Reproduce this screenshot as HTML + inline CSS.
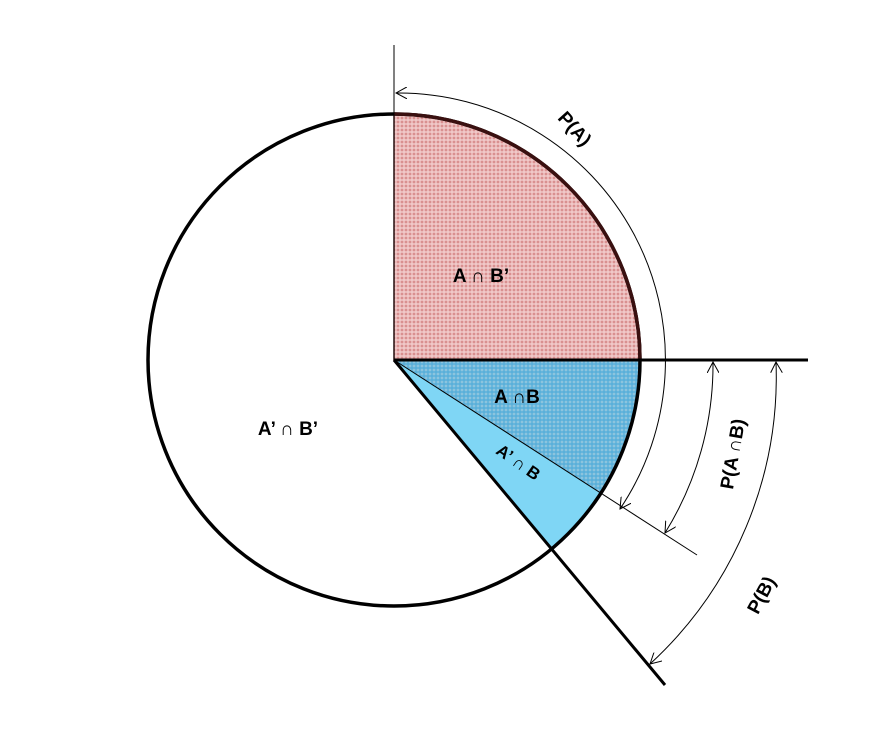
<!DOCTYPE html>
<html><head><style>body{margin:0;background:#fff}</style></head><body>
<svg width="883" height="724" xmlns="http://www.w3.org/2000/svg" style="font-family:'Liberation Sans',sans-serif;font-weight:bold">
<defs>
<pattern id="pk" width="4" height="4" patternUnits="userSpaceOnUse"><rect width="4" height="4" fill="#f0c8c8"/><circle cx="2" cy="2" r="1.4" fill="#d99090"/></pattern>
<pattern id="bl" width="4" height="4" patternUnits="userSpaceOnUse"><rect width="4" height="4" fill="#5ab0da"/><circle cx="2" cy="2" r="1.4" fill="#8cc4de"/></pattern>
<marker id="ah" markerWidth="12" markerHeight="12" refX="11" refY="6" orient="auto-start-reverse" markerUnits="userSpaceOnUse"><path d="M0,0 L11,6 L0,12" fill="none" stroke="#000" stroke-width="1"/></marker>
</defs>
<path d="M394,360 L394,114 A246,246 0 0 1 640,360 Z" fill="url(#pk)" stroke="#6b2a2a" stroke-width="1.5"/>
<path d="M394,360 L640,360 A246,246 0 0 1 552,549 Z" fill="#7fd6f5"/>
<path d="M394,360 L640,360 A246,246 0 0 1 601,493 Z" fill="url(#bl)"/>
<path d="M640,360 A246,246 0 0 1 552,549" fill="none" stroke="#1a7fa8" stroke-width="2.5"/>
<circle cx="394" cy="360" r="246" fill="none" stroke="#000" stroke-width="3.5"/>
<path d="M394,114 A246,246 0 0 1 640,360" fill="none" stroke="#3a1010" stroke-width="3.5"/>
<line x1="394" y1="45" x2="394" y2="360" stroke="#000" stroke-width="1"/>
<line x1="394" y1="360" x2="808" y2="360" stroke="#000" stroke-width="3"/>
<line x1="394" y1="360" x2="665" y2="685" stroke="#000" stroke-width="3"/>
<line x1="394" y1="360" x2="697" y2="555" stroke="#000" stroke-width="1"/>
<path d="M396,93 A267,267 0 0 1 620,509" fill="none" stroke="#000" stroke-width="1" marker-start="url(#ah)" marker-end="url(#ah)"/>
<path d="M713,362 A319,319 0 0 1 665,533" fill="none" stroke="#000" stroke-width="1" marker-start="url(#ah)" marker-end="url(#ah)"/>
<path d="M776,362 A390,390 0 0 1 650,664" fill="none" stroke="#000" stroke-width="1" marker-start="url(#ah)" marker-end="url(#ah)"/>
<text x="481" y="282" font-size="19" text-anchor="middle">A ∩ B’</text>
<text x="517" y="403" font-size="19" text-anchor="middle">A ∩B</text>
<text x="288" y="435" font-size="19" text-anchor="middle">A’ ∩ B’</text>
<text transform="translate(515,467) rotate(35)" font-size="17" text-anchor="middle">A’ ∩ B</text>
<text transform="translate(570,133) rotate(48)" font-size="19" text-anchor="middle">P(A)</text>
<text transform="translate(739,455) rotate(-80)" font-size="19" text-anchor="middle">P(A ∩B)</text>
<text transform="translate(767,598) rotate(-62)" font-size="19" text-anchor="middle">P(B)</text>
</svg>
</body></html>
